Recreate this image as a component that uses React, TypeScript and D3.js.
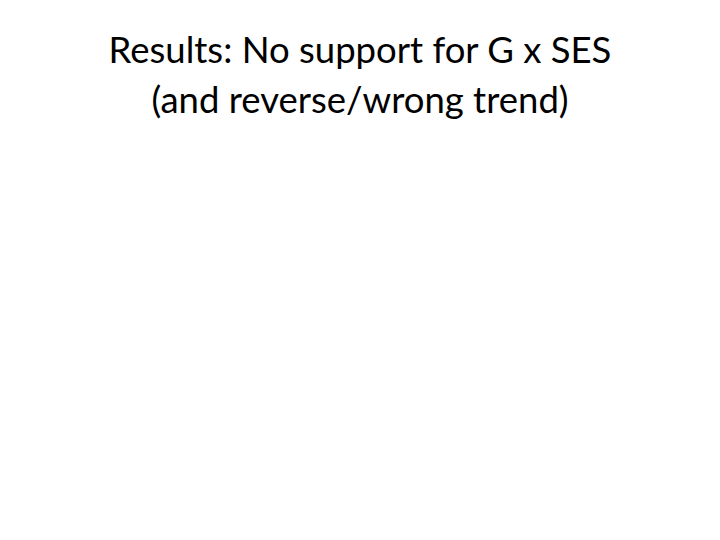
import * as d3 from "d3";
import { useEffect, useRef } from "react";

const titleLines = ["Results: No support for G x SES", "(and reverse/wrong trend)"];

export default function App() {
  const ref = useRef<SVGSVGElement>(null);

  useEffect(() => {
    if (!ref.current) return;
    const width = 720;
    const height = 540;

    const svg = d3.select(ref.current);
    svg.selectAll("*").remove();
    svg.attr("width", width).attr("height", height);

    svg.append("rect").attr("width", width).attr("height", height).attr("fill", "#ffffff");

    // two title lines, baselines spaced like the slide
    const y = d3.scalePoint<string>().domain(titleLines).range([63, 113]);

    svg
      .append("g")
      .selectAll("text")
      .data(titleLines)
      .join("text")
      .attr("x", width / 2)
      .attr("y", (d) => y(d) ?? 0)
      .attr("text-anchor", "middle")
      .attr("fill", "#000000")
      .style("font-family", "Lato, 'Open Sans', sans-serif")
      .style("font-size", "36.5px")
      .text((d) => d);
  }, []);

  return (
    <div style={{ position: "absolute", left: 0, top: 0 }}>
      <svg ref={ref} style={{ display: "block" }} />
    </div>
  );
}
